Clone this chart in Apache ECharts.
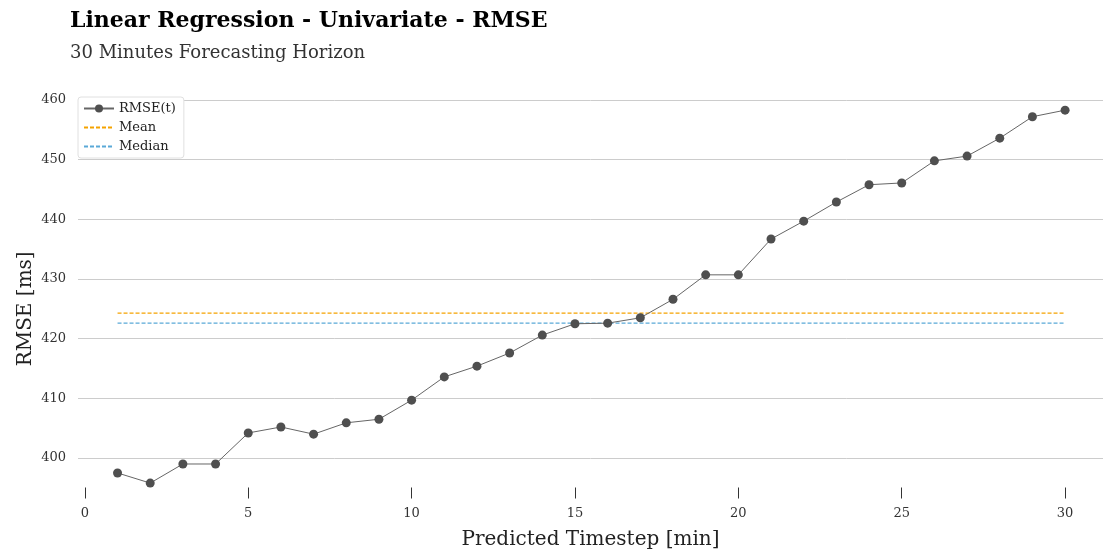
<!DOCTYPE html>
<html><head><meta charset="utf-8">
<script src="https://cdn.jsdelivr.net/npm/echarts@6/dist/echarts.min.js"></script>
<style>html,body{margin:0;padding:0;background:#fff}#c{width:1103px;height:553px}</style>
</head><body><div id="c"></div>
<script>
const timesteps = [1,2,3,4,5,6,7,8,9,10,11,12,13,14,15,16,17,18,19,20,21,22,23,24,25,26,27,28,29,30];
const rmse = [397.5,395.8,399.0,399.0,404.2,405.2,404.0,405.9,406.5,409.7,413.6,415.4,417.6,420.6,422.5,422.6,423.5,426.6,430.7,430.7,436.7,439.7,442.9,445.8,446.1,449.8,450.6,453.6,457.2,458.3];
const meanValue = 424.3;
const medianValue = 422.6;
const xTicks = [0,5,10,15,20,25,30];
const yTicks = [400,410,420,430,440,450,460];

const serif = "'DejaVu Serif', serif";
const chart = echarts.init(document.getElementById('c'));
chart.setOption({
  animation: false,
  backgroundColor: '#fff',
  title: {
    text: 'Linear Regression - Univariate - RMSE',
    subtext: '30 Minutes Forecasting Horizon',
    left: 65, top: 5, itemGap: 12,
    textStyle: {fontFamily: serif, fontSize: 22, fontWeight: 'bold', color: '#000'},
    subtextStyle: {fontFamily: serif, fontSize: 18, color: '#333'}
  },
  legend: {
    orient: 'vertical', left: 78, top: 97,
    itemWidth: 30, itemHeight: 10, itemGap: 6,
    backgroundColor: '#fff', borderColor: '#e0e0e0', borderWidth: 1, borderRadius: 3,
    padding: [5, 8, 5, 5],
    textStyle: {fontFamily: serif, fontSize: 13, color: '#222'},
    data: [
      {name: 'RMSE(t)'},
      {name: 'Mean', itemStyle: {opacity: 0}},
      {name: 'Median', itemStyle: {opacity: 0}}
    ]
  },
  grid: {left: 78, right: 0, top: 100, bottom: 35.3, containLabel: false, outerBoundsMode: 'none'},
  xAxis: {
    type: 'value', min: -0.21, max: 31.16, offset: -30.2,
    name: 'Predicted Timestep [min]', nameLocation: 'middle', nameGap: 42, nameMoveOverlap: false,
    nameTextStyle: {fontFamily: serif, fontSize: 20, color: '#222'},
    axisLine: {show: false},
    axisTick: {show: true, length: 11, customValues: xTicks, lineStyle: {color: '#333'}},
    axisLabel: {customValues: xTicks, margin: 20, fontFamily: serif, fontSize: 13, color: '#333'},
    splitLine: {show: false}
  },
  yAxis: {
    type: 'value', min: 390, max: 460, interval: 10,
    name: 'RMSE [ms]', nameLocation: 'middle', nameGap: 42, nameRotate: 90, nameMoveOverlap: false,
    nameTextStyle: {fontFamily: serif, fontSize: 20, color: '#222'},
    axisLine: {show: false}, axisTick: {show: false},
    axisLabel: {margin: 12, fontFamily: serif, fontSize: 13, color: '#333',
      formatter: v => (yTicks.indexOf(v) >= 0 ? String(v) : '')},
    splitLine: {show: true, showMinLine: false, lineStyle: {color: '#cccccc', width: 1}}
  },
  series: [
    {
      name: 'RMSE(t)', type: 'line',
      data: timesteps.map((t, i) => [t, rmse[i]]),
      symbol: 'circle', symbolSize: 9,
      lineStyle: {color: '#666', width: 1},
      itemStyle: {color: '#4f4f4f'},
      z: 3
    },
    {
      name: 'Mean', type: 'line',
      data: [[timesteps[0], meanValue], [timesteps[timesteps.length - 1], meanValue]],
      symbol: 'none',
      lineStyle: {color: '#f5a300', width: 1.3, type: [4, 2]},
      itemStyle: {color: '#f5a300'}, z: 2
    },
    {
      name: 'Median', type: 'line',
      data: [[timesteps[0], medianValue], [timesteps[timesteps.length - 1], medianValue]],
      symbol: 'none',
      lineStyle: {color: '#5aa9d8', width: 1.3, type: [4, 2]},
      itemStyle: {color: '#5aa9d8'}, z: 2
    }
  ]
});
</script>
</body></html>
